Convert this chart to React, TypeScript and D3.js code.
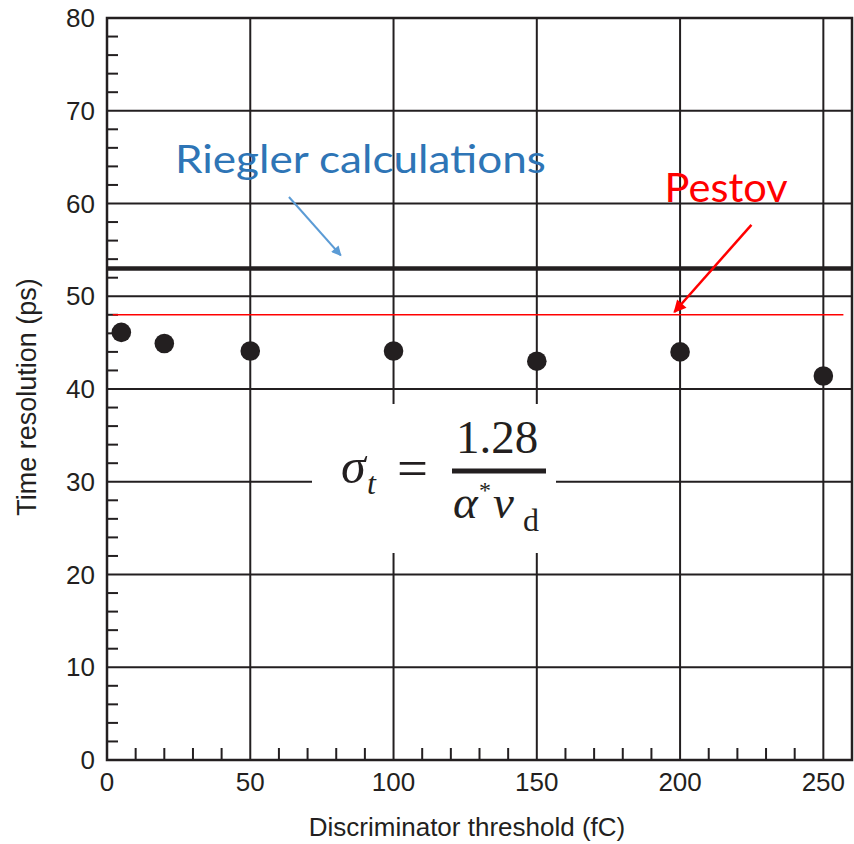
import React from "react";
import * as d3 from "d3";

// measured points
const thresholds = [5, 20, 50, 100, 150, 200, 250];
const timeResolution = [46.1, 44.9, 44.1, 44.1, 43.0, 44.0, 41.4];

// reference lines
const rieglerLevel = 53;
const rieglerSpan = [0, 260];
const pestovLevel = 48;
const pestovSpan = [2, 257];

const xTicks = [0, 50, 100, 150, 200, 250];
const yTicks = [0, 10, 20, 30, 40, 50, 60, 70, 80];
const xMinor = d3.range(10, 260, 10).filter((v) => v % 50 !== 0);
const yMinor = d3.range(2, 80, 2).filter((v) => v % 10 !== 0);

const W = 854;
const H = 844;
const margin = { top: 18, right: 2, bottom: 84, left: 107 };

const ink = "#231f20";

const App = () => {
  const x = d3.scaleLinear().domain([0, 260]).range([margin.left, W - margin.right]);
  const y = d3.scaleLinear().domain([0, 80]).range([H - margin.bottom, margin.top]);
  const x0 = x(0), x1 = x(260), y0 = y(0), y1 = y(80);

  // formula anchor (left end of fraction bar), pixels
  const fx = 452;
  const fy = 471;

  // annotation arrows in data space
  const rArrow = { from: [63.5, 60.7], to: [81.6, 54.4] };
  const pArrow = { from: [224.9, 57.7], to: [198, 48.3] };

  return (
    <svg
      width={W}
      height={H}
      style={{ position: "absolute", left: 0, top: 0, background: "#fff" }}
      fontFamily="'Liberation Sans', Arial, sans-serif"
    >
      <defs>
        <marker id="headBlue" viewBox="0 0 10 10" refX="9" refY="5" markerWidth="6" markerHeight="5" orient="auto" markerUnits="strokeWidth">
          <path d="M0,0 L10,5 L0,10 z" fill="#5b9bd5" />
        </marker>
        <marker id="headRed" viewBox="0 0 10 10" refX="9" refY="5" markerWidth="6" markerHeight="5" orient="auto" markerUnits="strokeWidth">
          <path d="M0,0 L10,5 L0,10 z" fill="#ff0000" />
        </marker>
      </defs>

      {/* grid */}
      {yTicks.map((t) => (
        <line key={"gy" + t} x1={x0} x2={x1} y1={y(t)} y2={y(t)} stroke={ink} strokeWidth={2} />
      ))}
      {xTicks.map((t) => (
        <line key={"gx" + t} x1={x(t)} x2={x(t)} y1={y0} y2={y1} stroke={ink} strokeWidth={2} />
      ))}

      {/* minor ticks */}
      {yMinor.map((t) => (
        <line key={"my" + t} x1={x0} x2={x0 + 11} y1={y(t)} y2={y(t)} stroke={ink} strokeWidth={2} />
      ))}
      {xMinor.map((t) => (
        <line key={"mx" + t} x1={x(t)} x2={x(t)} y1={y0} y2={y0 - 12} stroke={ink} strokeWidth={2} />
      ))}

      {/* frame */}
      <rect x={x0} y={y1} width={x1 - x0} height={y0 - y1} fill="none" stroke={ink} strokeWidth={2.5} />

      {/* Riegler line */}
      <line x1={x(rieglerSpan[0])} x2={x(rieglerSpan[1])} y1={y(rieglerLevel)} y2={y(rieglerLevel)} stroke={ink} strokeWidth={4.5} />
      {/* Pestov line */}
      <line x1={x(pestovSpan[0])} x2={x(pestovSpan[1])} y1={y(pestovLevel)} y2={y(pestovLevel)} stroke="#ff0000" strokeWidth={1.5} />

      {/* points */}
      {thresholds.map((t, i) => (
        <circle key={"p" + t} cx={x(t)} cy={y(timeResolution[i])} r={9.8} fill={ink} />
      ))}

      {/* formula box */}
      <rect x={312} y={404} width={244} height={149} fill="#fff" />
      <g fontFamily="'Liberation Serif', 'DejaVu Serif', serif" fill={ink}>
        <text x={fx - 111} y={483} fontSize={50} fontStyle="italic">σ</text>
        <text x={fx - 85} y={494} fontSize={32} fontStyle="italic">t</text>
        <text x={fx - 55} y={486} fontSize={52} textLength={31} lengthAdjust="spacingAndGlyphs">=</text>
        <rect x={fx} y={fy - 2.5} width={94} height={5} fill={ink} />
        <text x={fx + 4} y={453} fontSize={47}>1.28</text>
        <text x={fx + 1} y={518} fontSize={47} fontStyle="italic">α</text>
        <text x={fx + 27} y={498} fontSize={24}>*</text>
        <text x={fx + 41} y={518} fontSize={47} fontStyle="italic">ν</text>
        <text x={fx + 71} y={531} fontSize={32}>d</text>
      </g>

      {/* tick labels */}
      {yTicks.map((t) => (
        <text key={"ly" + t} x={x0 - 12} y={y(t)} dy="0.35em" textAnchor="end" fontSize={26} fill={ink}>
          {t}
        </text>
      ))}
      {xTicks.map((t) => (
        <text key={"lx" + t} x={x(t)} y={y0 + 30.5} textAnchor="middle" fontSize={26} fill={ink}>
          {t}
        </text>
      ))}

      {/* axis titles */}
      <text x={W / 2 + 40} y={836} textAnchor="middle" fontSize={26} fill={ink}>
        Discriminator threshold (fC)
      </text>
      <text transform={`translate(36, ${(y0 + y1) / 2 + 8}) rotate(-90)`} textAnchor="middle" fontSize={27} fill={ink}>
        Time resolution (ps)
      </text>

      {/* annotations */}
      <text x={x(23.7)} y={y(63.3)} fontFamily="Lato, 'Open Sans', sans-serif" fontSize={39} fill="#2e75b6" textLength={371} lengthAdjust="spacingAndGlyphs">
        Riegler calculations
      </text>
      <line x1={x(rArrow.from[0])} y1={y(rArrow.from[1])} x2={x(rArrow.to[0])} y2={y(rArrow.to[1])} stroke="#5b9bd5" strokeWidth={2} markerEnd="url(#headBlue)" />

      <text x={x(194.6)} y={y(60.2)} fontFamily="Lato, 'Open Sans', sans-serif" fontSize={40} fill="#ff0000" textLength={123} lengthAdjust="spacingAndGlyphs">
        Pestov
      </text>
      <line x1={x(pArrow.from[0])} y1={y(pArrow.from[1])} x2={x(pArrow.to[0])} y2={y(pArrow.to[1])} stroke="#ff0000" strokeWidth={2.5} markerEnd="url(#headRed)" />
    </svg>
  );
};

export default App;
